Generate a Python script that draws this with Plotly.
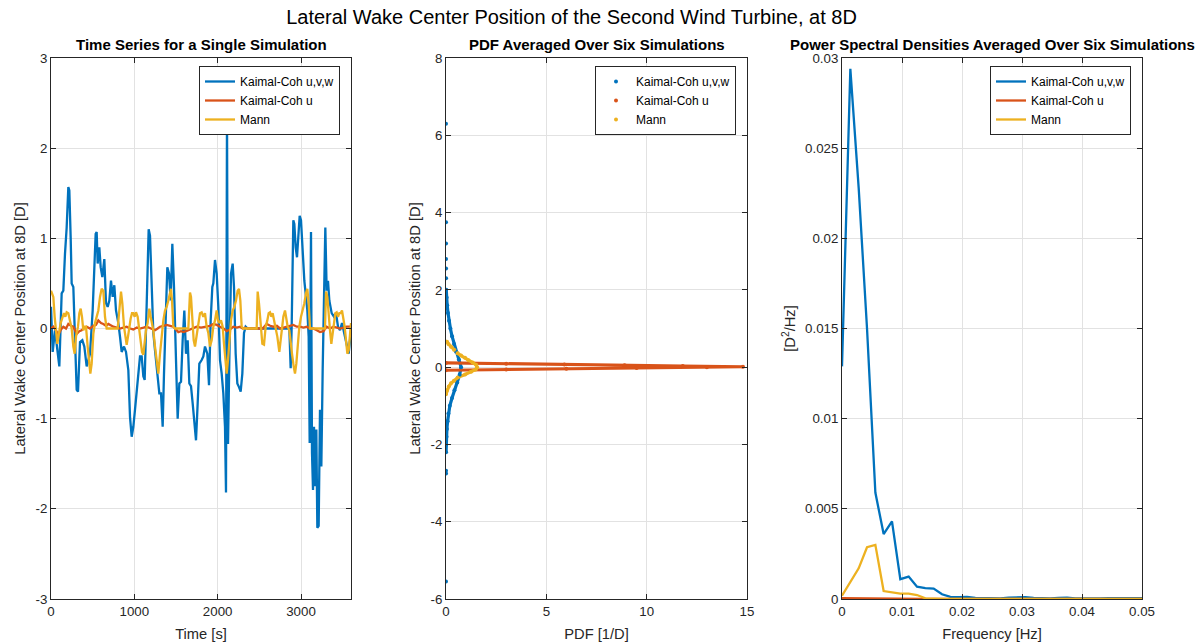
import plotly.graph_objects as go

# ---------------- Time series (single simulation) ----------------
t_kvw = [0, 20, 48, 76, 100, 128, 148, 168, 188, 208, 220, 236, 248, 268, 288, 308, 324, 348, 376, 400,
         428, 468, 500, 520, 536, 548, 560, 580, 596, 616, 640, 660, 680, 700, 720, 740, 760, 780, 808, 828,
         848, 876, 900, 928, 948, 968, 988, 1008, 1036, 1068, 1088, 1108, 1124, 1140, 1156, 1172, 1188, 1208, 1228, 1248,
         1276, 1300, 1320, 1340, 1356, 1376, 1396, 1416, 1436, 1456, 1476, 1500, 1520, 1540, 1560, 1580, 1600, 1620, 1640, 1660,
         1680, 1700, 1720, 1740, 1760, 1780, 1808, 1828, 1848, 1876, 1896, 1916, 1936, 1948, 1968, 1988, 2008, 2028, 2048, 2068,
         2088, 2100, 2112, 2124, 2140, 2160, 2180, 2196, 2216, 2236, 2256, 2276, 2296, 2316, 2336, 2360, 2860, 2876, 2888, 2908,
         2920, 2936, 2952, 2968, 2984, 3000, 3020, 3040, 3060, 3076, 3092, 3104, 3120, 3132, 3144, 3156, 3172, 3184, 3196, 3212,
         3228, 3244, 3260, 3276, 3292, 3308, 3324, 3340, 3368, 3396, 3420, 3444, 3468, 3492, 3520, 3548, 3572, 3600]
y_kvw = [0.24, -0.26, -0.02, -0.24, -0.42, 0.39, 0.42, 0.83, 1.12, 1.57, 1.53, 1.01, 0.5, 0.46, -0.17, -0.68, -0.70, -0.15, -0.13, -0.2,
         -0.42, -0.28, 0.2, 0.64, 1.05, 1.07, 0.72, 0.9, 0.68, 0.57, 0.77, 0.28, 0.24, 0.31, 0.53, 0.35, 0.48, 0.2, 0.06, -0.09,
         -0.26, -0.2, -0.26, -0.46, -0.98, -1.2, -1.09, -0.9, -0.61, -0.31, -0.31, -0.53, -0.57, -0.09, 0.64, 1.1, 1.03, 0.35, -0.05, -0.24,
         -0.5, -0.72, -0.72, -1.09, -0.5, 0.24, 0.68, 0.61, 0.31, 0.94, 0.46, -0.35, -1.0, -0.61, -0.59, -0.13, 0.2, -0.28, -0.13, -0.61,
         -0.64, -0.83, -1.02, -1.24, -0.83, -0.39, -0.35, -0.31, -0.2, -0.28, -0.63, 0.09, 0.46, 0.5, 0.76, 0.61, 0.24, -0.35, -0.5, -0.72,
         -1.09, -1.82, 2.39, -1.28, -0.35, 0.61, 0.72, 0.46, -0.28, -0.61, -0.65, -0.7, -0.5, -0.05, 0.02, 0.0, 0.0, -0.44, 0.02, 1.2,
         1.16, 0.9, 0.79, 1.01, 1.25, 1.2, 0.83, 0.53, 0.35, 0.2, -0.09, -1.27, 1.07, -1.38, -1.79, -1.09, -1.75, -1.12, -2.21, -2.19,
         -0.9, -1.53, -0.46, 0.2, 1.12, 0.42, 0.53, 0.31, 0.17, 0.13, 0.17, 0.02, -0.02, 0.06, -0.05, -0.17, -0.28, -0.02]

t_ku = [0, 28, 60, 88, 120, 148, 180, 208, 240, 268, 308, 340, 368, 400, 428, 468, 508, 540, 568, 600,
        628, 660, 688, 720, 748, 790, 828, 868, 908, 950, 988, 1030, 1068, 1110, 1148, 1200, 1248, 1280, 1308, 1350,
        1388, 1430, 1468, 1500, 1528, 1560, 1588, 1620, 1648, 1700, 1748, 1800, 1868, 1910, 1948, 1990, 2028, 2070, 2108, 2150,
        2188, 2230, 2268, 2300, 2328, 2360, 2540, 2588, 2630, 2668, 2710, 2748, 2790, 2828, 2870, 2908, 2950, 2988, 3030, 3068,
        3110, 3148, 3190, 3228, 3270, 3308, 3350, 3388, 3430, 3468, 3510, 3548, 3600]
y_ku = [0.0, 0.02, -0.02, -0.07, -0.01, 0.02, 0.0, 0.05, 0.03, 0.02, -0.06, -0.03, -0.02, 0.01, 0.02, 0.0, 0.03, 0.04, 0.09, 0.06,
        0.05, 0.03, 0.05, 0.03, 0.02, 0.01, 0.0, 0.01, 0.02, 0.0, -0.01, 0.01, 0.0, 0.01, 0.02, 0.0, -0.02, 0.0, 0.02, 0.03,
        0.04, 0.03, 0.02, -0.01, -0.04, -0.03, -0.04, -0.03, -0.02, 0.0, 0.02, 0.01, 0.02, 0.03, 0.05, 0.04, 0.02, 0.0, -0.03, -0.01,
        0.02, 0.01, 0.02, 0.0, 0.01, 0.0, 0.0, 0.05, 0.03, 0.02, 0.03, 0.0, 0.01, 0.02, 0.03, 0.04, 0.02, 0.02, 0.01, 0.02,
        0.0, 0.0, -0.02, -0.04, -0.03, 0.02, 0.0, 0.02, 0.01, 0.0, 0.01, 0.02, 0.02]

t_mann = [0, 28, 44, 60, 76, 96, 116, 140, 156, 172, 188, 208, 228, 248, 268, 284, 300, 324, 340, 356,
          372, 388, 404, 420, 440, 456, 472, 488, 508, 528, 548, 568, 588, 608, 628, 648, 668, 800, 840, 856,
          876, 892, 908, 924, 940, 956, 972, 988, 1004, 1020, 1040, 1056, 1076, 1092, 1108, 1124, 1140, 1160, 1180, 1196,
          1212, 1228, 1248, 1268, 1288, 1308, 1328, 1348, 1368, 1388, 1408, 1428, 1440, 1452, 1468, 1488, 1648, 1660, 1668, 1680,
          1696, 1712, 1728, 1748, 1768, 1788, 1808, 1828, 1848, 1868, 1888, 1908, 1928, 1948, 1968, 1988, 2004, 2020, 2040, 2060,
          2076, 2092, 2108, 2124, 2140, 2160, 2180, 2200, 2220, 2240, 2256, 2272, 2288, 2308, 2468, 2480, 2496, 2516, 2536, 2556,
          2576, 2596, 2612, 2628, 2644, 2660, 2676, 2692, 2716, 2740, 2756, 2772, 2788, 2808, 2824, 2840, 2860, 2876, 2892, 2912,
          2928, 2944, 2960, 2980, 3000, 3020, 3040, 3060, 3076, 3092, 3108, 3288, 3300, 3316, 3332, 3348, 3364, 3380, 3396, 3412,
          3428, 3444, 3460, 3476, 3492, 3508, 3524, 3540, 3556, 3572, 3588, 3600]
y_mann = [0.42, 0.35, 0.13, -0.02, -0.17, -0.05, 0.06, 0.13, 0.17, 0.13, 0.18, 0.17, 0.09, 0.0, -0.2, -0.28, -0.09, 0.02, 0.17, 0.22,
          0.13, -0.02, 0.02, 0.02, -0.2, -0.39, -0.5, -0.39, -0.06, 0.06, 0.13, 0.2, 0.35, 0.44, 0.42, 0.13, 0.0, 0.0, 0.41, 0.28,
          0.02, -0.09, -0.18, -0.09, 0.02, 0.11, 0.17, 0.17, 0.13, 0.18, 0.13, 0.02, -0.13, -0.26, -0.29, -0.13, -0.02, 0.06, 0.22, 0.13,
          0.06, -0.02, -0.2, -0.35, -0.5, -0.28, -0.05, 0.09, 0.2, 0.24, 0.31, 0.42, 0.44, 0.31, 0.02, 0.0, 0.0, 0.24, 0.4, 0.35,
          0.09, -0.13, -0.2, -0.09, 0.06, 0.17, 0.18, 0.13, 0.17, 0.02, -0.05, -0.2, -0.13, 0.02, 0.09, 0.2, 0.09, 0.06, 0.09, 0.02,
          -0.17, -0.35, -0.5, -0.35, -0.09, 0.09, 0.2, 0.24, 0.31, 0.42, 0.44, 0.31, 0.02, 0.0, 0.0, 0.41, 0.28, 0.02, -0.17, -0.18,
          0.02, 0.09, 0.17, 0.18, 0.13, 0.17, 0.11, 0.02, -0.09, -0.26, -0.13, 0.02, 0.13, 0.2, 0.11, 0.02, -0.02, -0.17, -0.28, -0.42,
          -0.5, -0.39, -0.2, 0.02, 0.13, 0.2, 0.28, 0.39, 0.44, 0.28, 0.0, 0.0, 0.41, 0.35, 0.13, -0.02, -0.17, -0.05, 0.09, 0.17,
          0.18, 0.13, 0.17, 0.17, 0.2, 0.13, 0.02, -0.13, -0.28, -0.24, -0.09, 0.06]

# ---------------- PDFs averaged over six simulations ----------------
pdf_kvw_y = [-2.2, -2.0, -1.8, -1.6, -1.4, -1.2, -1.0, -0.8, -0.6, -0.4, -0.2, 0.0, 0.2, 0.4, 0.6, 0.8, 1.0, 1.2, 1.4, 1.6, 1.8, 2.0]
pdf_kvw = [0.004, 0.01, 0.025, 0.045, 0.08, 0.12, 0.19, 0.3, 0.42, 0.56, 0.68, 0.75, 0.64, 0.5, 0.4, 0.3, 0.22, 0.15, 0.1, 0.06, 0.03, 0.012]
pdf_kvw_out_y = [-5.55, -2.75, -2.68, 2.3, 2.55, 2.8, 3.2, 3.75, 6.3]
pdf_kvw_out = [0.0, 0.002, 0.002, 0.004, 0.003, 0.002, 0.001, 0.001, 0.0]

pdf_ku_y = [-0.08, -0.06, -0.04, -0.02, 0.0, 0.01, 0.03, 0.05, 0.07, 0.09, 0.11]
pdf_ku = [0.0, 3.0, 6.0, 9.5, 13.0, 14.8, 11.8, 8.9, 5.9, 3.0, 0.0]

pdf_mann_y = [-0.70, -0.6, -0.5, -0.42, -0.35, -0.27, -0.19, -0.12, -0.06, 0.0, 0.06, 0.12, 0.18, 0.24, 0.30, 0.36, 0.45, 0.53, 0.6, 0.66]
pdf_mann = [0.0, 0.05, 0.14, 0.25, 0.4, 0.58, 0.95, 1.25, 1.48, 1.55, 1.5, 1.33, 1.12, 0.95, 0.75, 0.58, 0.4, 0.25, 0.12, 0.05]

# ---------------- PSDs averaged over six simulations ----------------
freq = [0.0, 0.00139, 0.00278, 0.00417, 0.00556, 0.00694, 0.00833, 0.00972, 0.01111, 0.0125, 0.01389, 0.01528,
        0.01667, 0.01806, 0.01944, 0.02083, 0.02222, 0.02361, 0.025, 0.02639, 0.02778, 0.02917, 0.03056, 0.03194,
        0.03333, 0.03472, 0.03611, 0.0375, 0.03889, 0.04028, 0.04167, 0.04306, 0.04444, 0.04583, 0.04722, 0.04861, 0.05]
psd_kvw = [0.0129, 0.0294, 0.0228, 0.0150, 0.0059, 0.0036, 0.0043, 0.0011, 0.00124, 0.00068, 0.0006, 0.00058,
           0.00026, 0.00012, 0.0001, 0.00012, 0.00006, 0.00005, 0.00004, 0.00004, 0.00008, 0.0001, 0.0001, 0.00006,
           0.00004, 0.00003, 0.00006, 0.00008, 0.00004, 0.00003, 0.00002, 0.00003, 0.00005, 0.00004, 0.00003, 0.00006, 0.00005]
psd_ku = [0.00005, 0.00005, 0.00004, 0.00003, 0.00002, 0.00002, 0.00001, 0.00001, 0.00001, 0.00001, 0.00001, 0.0,
          0.0, 0.0, 0.0, 0.0, 0.0, 0.0, 0.0, 0.0, 0.0, 0.0, 0.0, 0.0,
          0.0, 0.0, 0.0, 0.0, 0.0, 0.0, 0.0, 0.0, 0.0, 0.0, 0.0, 0.0, 0.0]
psd_mann = [0.00018, 0.00094, 0.0017, 0.00287, 0.0030, 0.00044, 0.00035, 0.0003, 0.0003, 0.00022, 0.00004, 0.00001,
            0.00001, 0.00001, 0.0, 0.0, 0.0, 0.0, 0.0, 0.0, 0.00001, 0.00001, 0.0, 0.0,
            0.0, 0.0, 0.0, 0.0, 0.0, 0.0, 0.0, 0.0, 0.00001, 0.00001, 0.0, 0.0, 0.0]

names = ["Kaimal-Coh u,v,w", "Kaimal-Coh u", "Mann"]
colors = ["#0072BD", "#D95319", "#EDB120"]

FONT = "Liberation Sans, Arial, Helvetica, sans-serif"
W, H = 1201, 642

fig = go.Figure()

# Left: time series
for t, y, n, c in zip([t_kvw, t_ku, t_mann], [y_kvw, y_ku, y_mann], names, colors):
    fig.add_trace(go.Scatter(x=t, y=y, mode="lines", name=n, line=dict(color=c, width=2.3),
                             xaxis="x", yaxis="y", legend="legend"))

# Middle: PDFs (dense dots rendered as thick line + dots)
pdf_sets = [(pdf_kvw, pdf_kvw_y), (pdf_ku, pdf_ku_y), (pdf_mann, pdf_mann_y)]
for (px, py), n, c in zip(pdf_sets, names, colors):
    fig.add_trace(go.Scatter(x=px, y=py, mode="lines", line=dict(color=c, width=3.2),
                             showlegend=False, xaxis="x2", yaxis="y2", hoverinfo="skip"))
fig.add_trace(go.Scatter(x=pdf_kvw_out, y=pdf_kvw_out_y, mode="markers", marker=dict(color=colors[0], size=4),
                         showlegend=False, xaxis="x2", yaxis="y2"))
for (px, py), n, c in zip(pdf_sets, names, colors):
    fig.add_trace(go.Scatter(x=px, y=py, mode="markers", name=n, marker=dict(color=c, size=4),
                             xaxis="x2", yaxis="y2", legend="legend2"))

# Right: PSDs
for p, n, c in zip([psd_kvw, psd_ku, psd_mann], names, colors):
    fig.add_trace(go.Scatter(x=freq, y=p, mode="lines", name=n, line=dict(color=c, width=2.3),
                             xaxis="x3", yaxis="y3", legend="legend3"))

ytop, ybot = 58, 599
ydom = [1 - ybot / H, 1 - ytop / H]

def ax(domain, rng, tickvals, ticktext, title, anchor, standoff=None):
    t = dict(text=title, font=dict(family=FONT, size=14.7, color="#262626"))
    if standoff is not None:
        t["standoff"] = standoff
    return dict(domain=domain, range=rng, anchor=anchor, tickvals=tickvals, ticktext=ticktext,
                showline=True, linecolor="#262626", linewidth=1, mirror="ticks",
                ticks="inside", ticklen=5, tickcolor="#262626", tickwidth=1,
                showgrid=True, gridcolor="#E2E2E2", gridwidth=1, zeroline=False,
                tickfont=dict(family=FONT, size=13.3, color="#262626"),
                title=t, automargin=False)

xd1 = [51 / W, 351 / W]
xd2 = [446 / W, 747 / W]
xd3 = [842 / W, 1142 / W]

legend_common = dict(bgcolor="white", bordercolor="#262626", borderwidth=1,
                     font=dict(family=FONT, size=12, color="#000000"),
                     xanchor="right", yanchor="top", itemwidth=30, tracegroupgap=0)

fig.update_layout(
    width=W, height=H, margin=dict(l=0, r=0, t=0, b=0),
    paper_bgcolor="white", plot_bgcolor="white",
    font=dict(family=FONT, color="#262626"),
    title=dict(text="Lateral Wake Center Position of the Second Wind Turbine, at 8D",
               x=571.5 / W, xanchor="center", y=1 - 17 / H, yanchor="middle",
               font=dict(family=FONT, size=20, color="#000000")),
    xaxis=ax(xd1, [0, 3600], [0, 1000, 2000, 3000], ["0", "1000", "2000", "3000"], "Time [s]", "y"),
    yaxis=ax(ydom, [-3, 3], [-3, -2, -1, 0, 1, 2, 3], ["-3", "-2", "-1", "0", "1", "2", "3"],
             "Lateral Wake Center Position at 8D [D]", "x", standoff=6),
    xaxis2=ax(xd2, [0, 15], [0, 5, 10, 15], ["0", "5", "10", "15"], "PDF [1/D]", "y2"),
    yaxis2=ax(ydom, [-6, 8], [-6, -4, -2, 0, 2, 4, 6, 8], ["-6", "-4", "-2", "0", "2", "4", "6", "8"],
              "Lateral Wake Center Position at 8D [D]", "x2", standoff=6),
    xaxis3=ax(xd3, [0, 0.05], [0, 0.01, 0.02, 0.03, 0.04, 0.05], ["0", "0.01", "0.02", "0.03", "0.04", "0.05"],
              "Frequency [Hz]", "y3"),
    yaxis3=ax(ydom, [0, 0.03], [0, 0.005, 0.01, 0.015, 0.02, 0.025, 0.03],
              ["0", "0.005", "0.01", "0.015", "0.02", "0.025", "0.03"], "[D<sup>2</sup>/Hz]", "x3", standoff=5),
    legend=dict(x=340 / W, y=1 - 66 / H, **legend_common),
    legend2=dict(x=736 / W, y=1 - 66 / H, **legend_common),
    legend3=dict(x=1131 / W, y=1 - 66 / H, **legend_common),
    showlegend=True,
)

subtitles = ["Time Series for a Single Simulation", "PDF Averaged Over Six Simulations",
             "Power Spectral Densities Averaged Over Six Simulations"]
for dom, txt in zip([xd1, xd2, xd3], subtitles):
    fig.add_annotation(text="<b>" + txt + "</b>", x=(dom[0] + dom[1]) / 2, y=1 - 45 / H,
                       xref="paper", yref="paper", xanchor="center", yanchor="middle", showarrow=False,
                       font=dict(family=FONT, size=15, color="#000000"))

fig.write_html("out.html")
